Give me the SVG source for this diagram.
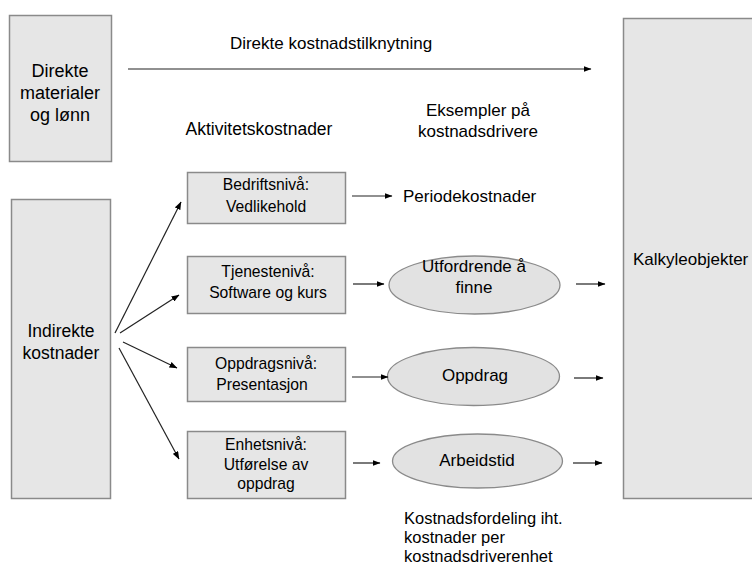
<svg xmlns="http://www.w3.org/2000/svg" width="752" height="565" viewBox="0 0 752 565">
<defs>
<marker id="ah" markerWidth="8" markerHeight="6" refX="7.5" refY="3" orient="auto" markerUnits="userSpaceOnUse">
<path d="M0,0 L8,3 L0,6 Z" fill="#000"/>
</marker>
<style>
.box{fill:#e6e6e6;stroke:#8a8a8a;stroke-width:1.5}
.ell{fill:#e2e2e2;stroke:#8a8a8a;stroke-width:1.3}
.c{stroke:#222;stroke-width:1.2;fill:none;marker-end:url(#ah)}
text{font-family:"Liberation Sans",Arial,sans-serif;fill:#000}
.t18{font-size:18px}
.t17{font-size:17px}
.t16{font-size:16.5px}
.t15{font-size:15.7px}
.m{text-anchor:middle}
</style>
</defs>
<rect width="752" height="565" fill="#fff"/>

<g id="direkte">
<rect class="box" x="9.5" y="15.5" width="102" height="146"/>
<text class="t18 m" x="60" y="77">Direkte</text>
<text class="t18 m" x="60" y="99">materialer</text>
<text class="t18 m" x="60" y="121">og lønn</text>
</g>

<g id="indirekte">
<rect class="box" x="11.5" y="199.5" width="99" height="299"/>
<text class="m" style="font-size:17.5px" x="61" y="337">Indirekte</text>
<text class="m" style="font-size:17.5px" x="61" y="359">kostnader</text>
</g>

<g id="kalkyle">
<rect class="box" x="623.5" y="18.5" width="140" height="480"/>
<text class="t17" x="633" y="265">Kalkyleobjekter</text>
</g>

<g id="label-direkte">
<text class="t17 m" x="331" y="49">Direkte kostnadstilknytning</text>
</g>
<g id="label-aktivitet">
<text class="m" style="font-size:17.5px" x="259" y="135">Aktivitetskostnader</text>
</g>
<g id="label-eksempler">
<text class="t17 m" x="478" y="116">Eksempler på</text>
<text class="t17 m" x="478" y="137">kostnadsdrivere</text>
</g>

<g id="bedrift">
<rect class="box" x="187.5" y="172.5" width="158" height="51"/>
<text class="t15 m" x="266" y="190">Bedriftsnivå:</text>
<text class="t15 m" x="266" y="212">Vedlikehold</text>
</g>
<g id="tjeneste">
<rect class="box" x="187.5" y="256.5" width="158" height="57"/>
<text class="t15 m" x="268" y="277">Tjenestenivå:</text>
<text class="t15 m" x="268" y="298">Software og kurs</text>
</g>
<g id="oppdragsniva">
<rect class="box" x="187.5" y="347.5" width="158" height="54"/>
<text class="t15 m" x="266" y="369">Oppdragsnivå:</text>
<text class="t15 m" x="262" y="390">Presentasjon</text>
</g>
<g id="enhet">
<rect class="box" x="187.5" y="431.5" width="158" height="67"/>
<text class="t15 m" x="266" y="450">Enhetsnivå:</text>
<text class="t15 m" x="266" y="470">Utførelse av</text>
<text class="t15 m" x="266" y="489">oppdrag</text>
</g>

<g id="periode">
<text class="t17" x="403" y="202">Periodekostnader</text>
</g>
<g id="utfordrende">
<ellipse class="ell" cx="474.5" cy="285" rx="85.5" ry="29"/>
<text class="t17 m" x="474" y="272">Utfordrende å</text>
<text class="t17 m" x="474" y="293">finne</text>
</g>
<g id="oppdrag">
<ellipse class="ell" cx="473.5" cy="376.5" rx="86" ry="29"/>
<text class="t17 m" x="475" y="381">Oppdrag</text>
</g>
<g id="arbeidstid">
<ellipse class="ell" cx="477.5" cy="461" rx="85" ry="27"/>
<text class="t17 m" x="477" y="466">Arbeidstid</text>
</g>

<g id="note">
<text class="t16" x="404" y="524">Kostnadsfordeling iht.</text>
<text class="t16" x="404" y="543">kostnader per</text>
<text class="t16" x="404" y="562">kostnadsdriverenhet</text>
</g>

<g id="connectors">
<line class="c" x1="128" y1="69" x2="591" y2="69"/>
<line class="c" x1="115" y1="333" x2="181" y2="202"/>
<line class="c" x1="120" y1="333" x2="179" y2="295"/>
<line class="c" x1="123" y1="342" x2="177" y2="368"/>
<line class="c" x1="119" y1="348" x2="179" y2="459"/>
<line class="c" x1="352" y1="196" x2="392" y2="196"/>
<line class="c" x1="353" y1="284" x2="384" y2="284"/>
<line class="c" x1="352" y1="377" x2="388" y2="377"/>
<line class="c" x1="353" y1="463" x2="380" y2="463"/>
<line class="c" x1="576" y1="284" x2="605" y2="284"/>
<line class="c" x1="574" y1="378" x2="603" y2="378"/>
<line class="c" x1="573" y1="463" x2="602" y2="463"/>
</g>
</svg>
